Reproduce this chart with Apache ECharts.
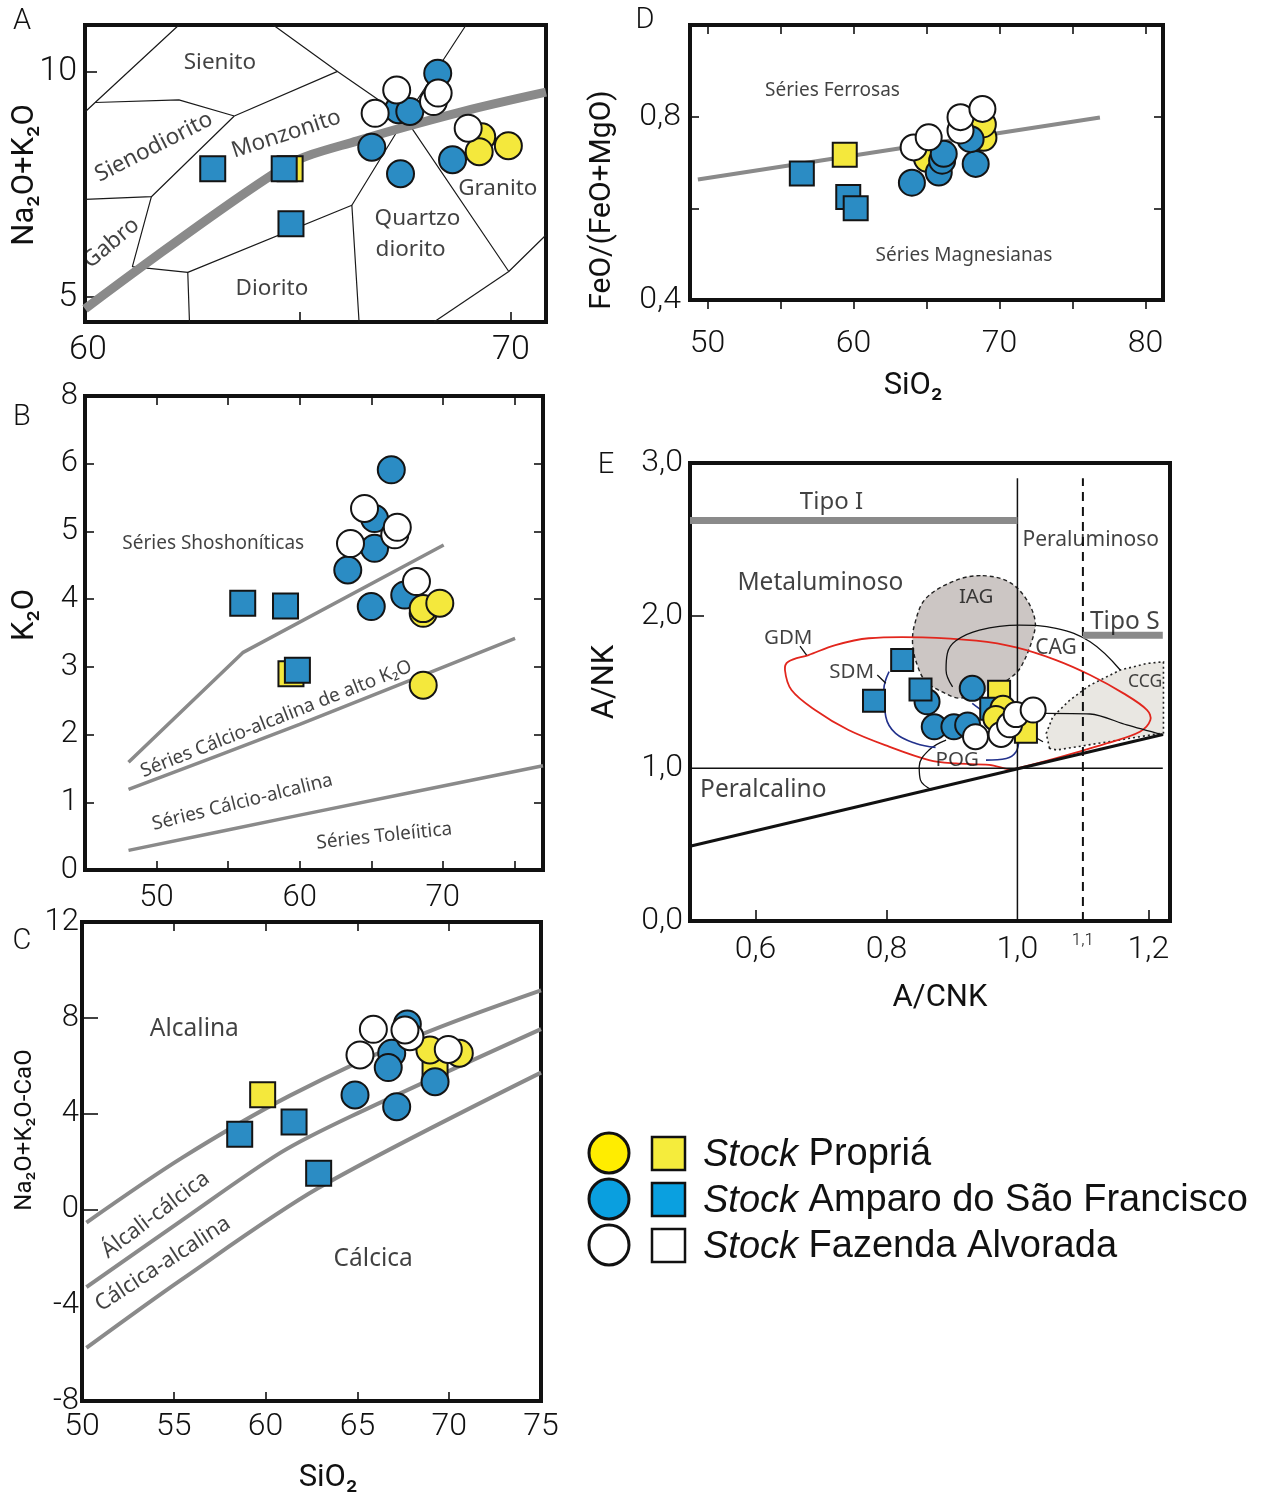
<!DOCTYPE html>
<html><head><meta charset="utf-8">
<script src="https://cdn.jsdelivr.net/npm/echarts@6/dist/echarts.min.js"></script>
<style>html,body{margin:0;padding:0;background:#fff}#c{width:1262px;height:1496px}</style>
</head><body><div id="c"></div>
<script>
// ---------------- DATA ----------------
// Panel A: TAS (SiO2 vs Na2O+K2O)
const A_xTicks = [65, 70], A_xLabels = [60, 70], A_yTicks = [5, 10], A_yLabels = [5, 10];
const A_yellowSquares = [[64.78, 7.85]];
const A_blueSquares = [[62.95, 7.85], [64.64, 7.85], [64.80, 6.63]];
const A_yellowCircles = [[69.31, 8.56], [69.25, 8.23], [69.94, 8.36]];
const A_blueCircles = [[68.27, 9.97], [67.34, 9.16], [67.61, 9.12], [66.71, 8.33], [67.39, 7.74], [68.62, 8.05]];
const A_whiteCircles = [[67.30, 9.60], [68.17, 9.34], [68.28, 9.53], [66.79, 9.08], [68.99, 8.75]];
const A_fieldLines = [
  [[62.15, 11.04], [60.17, 9.32], [59.93, 9.11]],
  [[60.17, 9.32], [62.15, 9.38], [63.46, 9.02]],
  [[64.38, 11.04], [65.90, 10.01], [67.5, 8.97]],
  [[63.46, 9.02], [65.90, 10.01]],
  [[63.46, 9.02], [61.5, 7.23], [59.93, 7.17]],
  [[61.5, 7.23], [61.05, 5.68], [62.36, 5.55], [62.40, 4.45]],
  [[62.36, 5.55], [66.24, 7.04], [66.41, 4.45]],
  [[66.24, 7.04], [67.5, 8.97], [68.94, 11.04]],
  [[67.5, 8.97], [69.95, 5.57], [70.83, 6.38]],
  [[69.95, 5.57], [68.18, 4.45]]
];
const A_alkalineLine = [[59.93, 4.74], [64.68, 7.91], [66.37, 8.47], [68.9, 9.13], [70.83, 9.55]];
const A_labels = [[63.12, 10.20, 'Sienito', 0], [61.56, 8.33, 'Sienodiorito', 27], [64.69, 8.62, 'Monzonito', 18],
  [60.55, 6.20, 'Gabro', 40], [67.79, 6.75, 'Quartzo', 0], [67.63, 6.05, 'diorito', 0], [64.35, 5.20, 'Diorito', 0], [69.69, 7.41, 'Granito', 0]];

// Panel B: SiO2 vs K2O
const B_xTicks = [50, 55, 60, 65, 70, 75], B_xLabels = [50, 60, 70], B_yTicks = [1, 2, 3, 4, 5, 6], B_yLabels = [0, 1, 2, 3, 4, 5, 6, 7];
const B_yellowSquares = [[59.39, 2.90]];
const B_blueSquares = [[56.02, 3.94], [59.01, 3.90], [59.84, 2.95]];
const B_blueCircles = [[66.40, 5.91], [65.23, 5.19], [65.23, 4.75], [63.36, 4.43], [65.0, 3.89], [67.34, 4.06]];
const B_yellowCircles = [[68.63, 2.73], [68.63, 3.79], [68.63, 3.86], [69.79, 3.94]];
const B_whiteCircles = [[64.53, 5.34], [66.64, 4.95], [66.82, 5.06], [63.55, 4.82], [68.16, 4.26]];
const B_shoshoniticLine = [[48.04, 1.59], [56.02, 3.21], [70.06, 4.80]];
const B_highKLine = [[48.04, 1.19], [60, 2.15], [75.05, 3.42]];
const B_tholeiiticLine = [[48.04, 0.29], [60, 0.81], [77, 1.54]];
const B_labels = [[53.96, 4.82, 'Séries Shoshoníticas', 0], [58.37, 2.23, 'Séries Cálcio-alcalina de alto K₂O', 21.5],
  [56.0, 1.0, 'Séries Cálcio-alcalina', 14], [65.91, 0.50, 'Séries Toleíitica', 6]];

// Panel C: SiO2 vs Na2O+K2O-CaO
const C_xTicks = [55, 60, 65, 70], C_xLabels = [50, 55, 60, 65, 70, 75], C_yTicks = [0, 4, 8], C_yLabels = [-8, -4, 0, 4, 8, 12];
const C_yellowSquares = [[59.84, 4.79], [69.23, 5.89]];
const C_blueSquares = [[58.59, 3.14], [61.55, 3.65], [62.89, 1.51]];
const C_yellowCircles = [[68.95, 6.66], [70.55, 6.52]];
const C_blueCircles = [[67.72, 7.74], [66.87, 6.52], [66.68, 5.92], [69.23, 5.33], [64.87, 4.78], [67.14, 4.29]];
const C_whiteCircles = [[65.87, 7.52], [67.86, 7.21], [67.59, 7.49], [65.14, 6.45], [69.95, 6.68]];
const C_alkalineLine = [[50.24, -0.55], [55.42, 2.14], [61.35, 4.76], [68.47, 7.3], [75, 9.15]];
const C_alkaliCalcicLine = [[50.24, -3.25], [55.42, -0.47], [60.84, 2.38], [64.66, 3.89], [75, 7.53]];
const C_calcAlkalicLine = [[50.24, -5.78], [55.42, -2.93], [62.85, 0.88], [75, 5.71]];
const C_labels = [[56.12, 7.53, 'Alcalina', 0], [65.86, -2.06, 'Cálcica', 0], [54.01, -0.23, 'Álcali-cálcica', 37, 22], [54.41, -2.28, 'Cálcica-alcalina', 33, 22]];

// Panel D: SiO2 vs FeO/(FeO+MgO)
const D_xTicks = [50, 55, 60, 65, 70, 75, 80], D_xLabels = [50, 60, 70, 80], D_yTicks = [0.6, 0.8], D_yLabels = [0.4, 0.8];
const D_yellowSquares = [[59.4, 0.717]];
const D_blueSquares = [[56.46, 0.676], [59.64, 0.625], [60.15, 0.600]];
const D_yellowCircles = [[65.04, 0.708], [68.9, 0.754], [68.86, 0.783]];
const D_blueCircles = [[64.0, 0.656], [65.84, 0.678], [66.07, 0.704], [66.18, 0.719], [68.37, 0.697], [68.02, 0.751]];
const D_whiteCircles = [[64.12, 0.733], [65.15, 0.755], [67.33, 0.77], [67.33, 0.799], [68.83, 0.817]];
const D_ferroanLine = [[49.34, 0.663], [76.88, 0.798]];
const D_labels = [[58.56, 0.857, 'Séries Ferrosas', 0], [67.57, 0.496, 'Séries Magnesianas', 0]];

// Panel E: A/CNK vs A/NK
const E_xTicks = [0.6, 0.8, 1.2], E_xLabels = [0.6, 0.8, 1.0, 1.1, 1.2], E_yTicks = [2], E_yLabels = [0, 1, 2, 3];
const E_yellowSquares = [[0.972, 1.502], [1.013, 1.240]];
const E_blueCircles = [[0.931, 1.524], [0.862, 1.436], [0.873, 1.272], [0.903, 1.272], [0.924, 1.284]];
const E_blueSquares = [[0.824, 1.709], [0.852, 1.517], [0.781, 1.443], [0.96, 1.39]];
const E_yellowCircles = [[0.978, 1.393], [0.967, 1.327]];
const E_whiteCircles = [[0.936, 1.207], [0.975, 1.222], [0.988, 1.285], [0.998, 1.352], [1.024, 1.382]];
const E_iagField = [[0.947, 2.262], [0.987, 2.221], [1.013, 2.112], [1.027, 1.967], [1.023, 1.847], [1.007, 1.677], [0.993, 1.605],
  [0.96, 1.52], [0.913, 1.46], [0.887, 1.497], [0.86, 1.569], [0.847, 1.677], [0.84, 1.81], [0.843, 1.943], [0.86, 2.112], [0.907, 2.233]];
const E_ccgField = [[1.049, 1.131], [1.044, 1.229], [1.054, 1.338], [1.08, 1.447], [1.111, 1.545], [1.157, 1.644], [1.198, 1.687],
  [1.223, 1.698], [1.223, 1.232], [1.06, 1.12]];
const E_gdmField = [[0.681, 1.742], [0.722, 1.807], [0.773, 1.852], [0.855, 1.858], [0.937, 1.836], [0.998, 1.792], [1.059, 1.709],
  [1.111, 1.611], [1.162, 1.491], [1.198, 1.382], [1.203, 1.316], [1.187, 1.240], [1.136, 1.163], [1.085, 1.098], [1.034, 1.037],
  [0.9995, 1.0], [0.988, 0.993], [0.957, 1.022], [0.906, 1.032], [0.865, 1.054], [0.804, 1.142], [0.742, 1.251], [0.691, 1.382],
  [0.655, 1.513], [0.645, 1.644], [0.650, 1.698]];
const E_cagTop = [[0.901, 1.534], [0.891, 1.644], [0.893, 1.753], [0.906, 1.836], [0.942, 1.906], [1.003, 1.938], [1.059, 1.917], [1.111, 1.829], [1.157, 1.644]];
const E_cagBottom = [[1.042, 1.360], [1.111, 1.356], [1.167, 1.284], [1.223, 1.218]];
const E_cagSegment = [[1.008, 1.251], [1.039, 1.174]];
const E_pogOuter = [[0.891, 1.185], [0.865, 1.12], [0.850, 1.011], [0.852, 0.923], [0.870, 0.858]];
const E_sdmLeft = [[0.804, 1.633], [0.796, 1.513], [0.799, 1.338], [0.814, 1.229], [0.845, 1.163], [0.875, 1.137]];
const E_sdmRight = [[0.952, 1.054], [0.983, 1.065], [0.998, 1.109], [1.002, 1.185]];
const E_sdmInner = [[0.931, 1.425], [0.955, 1.349]];
const E_sdmLeader = [[0.786, 1.611], [0.799, 1.557]];
const E_gdmLeader = [[0.668, 1.801], [0.678, 1.742]];
const E_peralkalineLine = [[0.5, 0.49], [1.222, 1.222]];
const E_oneLine = [[0.5, 1.0], [1.222, 1.0]];
const E_aCNK1 = [[1.0, 0], [1.0, 2.9]];
const E_aCNK11 = [[1.1, 0], [1.1, 2.9]];
const E_tipoI = [[0.5, 2.624], [1.0, 2.624]];
const E_tipoS = [[1.1, 1.871], [1.222, 1.871]];
const E_labels = [[0.716, 2.744, 'Tipo I', 0, 24], [1.112, 2.495, 'Peraluminoso', 0, 21], [0.699, 2.215, 'Metaluminoso', 0, 24.5],
  [0.937, 2.12, 'IAG', 0, 20.5], [0.650, 1.853, 'GDM', 0, 20.5], [1.059, 1.786, 'CAG', 0, 21], [1.164, 1.958, 'Tipo S', 0, 24.5],
  [0.747, 1.633, 'SDM', 0, 20.5], [1.195, 1.567, 'CCG', 0, 17.5], [0.908, 1.054, 'POG', 0, 20.5], [0.612, 0.858, 'Peralcalino', 0, 24.5]];

// ---------------- STYLE / HELPERS ----------------
const FN = 'Roboto, "Liberation Sans", sans-serif';
const FT = '"Noto Sans", "DejaVu Sans", sans-serif';
const BLUE = '#2b8cc4', YEL = '#f4e83c', WHITE = '#ffffff', EDGE = '#141414', GREY = '#8a8a8a';
const comma = v => Number(v).toFixed(1).replace('.', ',');

function ax(o, tick, label) {
  const a = Object.assign({ type: 'value', splitLine: { show: false }, axisLine: { show: false, onZero: false } }, o);
  a.axisTick = Object.assign({ show: true, inside: true, length: 9, lineStyle: { color: '#111', width: 1.6 } }, tick || { show: false });
  a.axisLabel = Object.assign({ show: true, color: '#111', fontFamily: FN, fontWeight: 300, fontSize: 31, margin: 8 }, label || { show: false });
  return a;
}
function marks(xi, yi, data, sym, size, color) {
  return { type: 'scatter', xAxisIndex: xi, yAxisIndex: yi, data: data, symbol: sym, symbolSize: size, silent: true, z: 4,
    itemStyle: { color: color, borderColor: EDGE, borderWidth: 2, opacity: 1 }, clip: false, animation: false };
}
function path(xi, yi, data, color, width, dash, smooth) {
  return { type: 'line', xAxisIndex: xi, yAxisIndex: yi, data: data, showSymbol: false, symbol: 'none', silent: true, z: 2,
    lineStyle: { color: color, width: width, type: dash || 'solid', cap: 'butt' }, smooth: smooth || false, animation: false };
}
function poly(xi, yi, pts, style, smooth, z) {
  return { type: 'custom', xAxisIndex: xi, yAxisIndex: yi, silent: true, z: z || 1, data: [pts[0]], animation: false,
    renderItem: function (params, api) {
      return { type: 'polygon', shape: { points: pts.map(p => api.coord(p)), smooth: smooth || 0 }, style: style };
    } };
}
function texts(xi, yi, items, size) {
  return { type: 'scatter', xAxisIndex: xi, yAxisIndex: yi, symbolSize: 1, silent: true, z: 6, clip: false, animation: false,
    itemStyle: { color: 'rgba(0,0,0,0)' },
    label: { show: true, position: 'inside', color: '#111', fontFamily: FT, fontSize: size, formatter: p => p.name },
    data: items.map(t => ({ name: t[2], value: [t[0], t[1]], label: { rotate: t[3] || 0, fontSize: t[4] || size } })) };
}
function group(xi, yi, order, sets, cs, ss) {
  const out = [];
  order.forEach(k => {
    const d = sets[k]; if (!d) return;
    const col = k[0] === 'y' ? YEL : k[0] === 'b' ? BLUE : WHITE;
    out.push(marks(xi, yi, d, k.endsWith('S') ? 'rect' : 'circle', k.endsWith('S') ? ss : cs, col));
  });
  return out;
}

// ---------------- AXES ----------------
const xAxes = [
  ax({ gridIndex: 0, min: 59.93, max: 70.83 }, { customValues: A_xTicks, length: 10 }, { customValues: A_xLabels, fontSize: 34, margin: 11 }),
  ax({ gridIndex: 1, min: 45, max: 77 }, { customValues: B_xTicks }, { customValues: B_xLabels, fontSize: 31, margin: 13 }),
  ax({ gridIndex: 1, min: 45, max: 77, position: 'top' }, { customValues: B_xTicks }, null),
  ax({ gridIndex: 2, min: 50, max: 75 }, { customValues: C_xTicks }, { customValues: C_xLabels, fontSize: 32, margin: 10 }),
  ax({ gridIndex: 2, min: 50, max: 75, position: 'top' }, { customValues: C_xTicks }, null),
  ax({ gridIndex: 3, min: 48.8, max: 81.2 }, { customValues: D_xTicks, inside: false, length: 9 }, { customValues: D_xLabels, fontSize: 32, margin: 28 }),
  ax({ gridIndex: 3, min: 48.8, max: 81.2, position: 'top' }, { customValues: D_xTicks }, null),
  ax({ gridIndex: 4, min: 0.5, max: 1.233 }, { customValues: E_xTicks, length: 11 },
    { customValues: E_xLabels, fontSize: 32, margin: 13,
      formatter: v => Math.abs(v - 1.1) < 1e-6 ? '{s|1,1}' : comma(v),
      rich: { s: { fontSize: 17, fontFamily: FN, fontWeight: 300, color: '#111', lineHeight: 14 } } })
];
const yAxes = [
  ax({ gridIndex: 0, min: 4.45, max: 11.04 }, { customValues: A_yTicks, length: 12 }, { customValues: A_yLabels, fontSize: 34, margin: 8 }),
  ax({ gridIndex: 1, min: 0, max: 7 }, { customValues: B_yTicks }, { customValues: B_yLabels, fontSize: 31, margin: 7, formatter: v => v === 7 ? '8' : String(v) }),
  ax({ gridIndex: 1, min: 0, max: 7, position: 'right' }, { customValues: B_yTicks }, null),
  ax({ gridIndex: 2, min: -8, max: 12 }, { customValues: C_yTicks, length: 16 }, { customValues: C_yLabels, fontSize: 31, margin: 3 }),
  ax({ gridIndex: 3, min: 0.4, max: 1.0 }, { customValues: D_yTicks }, { customValues: D_yLabels, fontSize: 32, margin: 9, formatter: comma }),
  ax({ gridIndex: 3, min: 0.4, max: 1.0, position: 'right' }, { customValues: D_yTicks }, null),
  ax({ gridIndex: 4, min: 0, max: 3 }, { customValues: E_yTicks, length: 14 }, { customValues: E_yLabels, fontSize: 32, margin: 7, formatter: comma })
];

const gridBase = { show: true, borderColor: '#111', borderWidth: 4, backgroundColor: 'transparent', containLabel: false };
const grids = [
  Object.assign({ left: 85, top: 25, width: 461, height: 297 }, gridBase),
  Object.assign({ left: 85, top: 396, width: 458, height: 474 }, gridBase),
  Object.assign({ left: 82, top: 922, width: 459, height: 479 }, gridBase),
  Object.assign({ left: 690, top: 25, width: 473, height: 275 }, gridBase),
  Object.assign({ left: 690, top: 463, width: 480, height: 458 }, gridBase)
];

// ---------------- SERIES ----------------
const series = [];
// A
A_fieldLines.forEach(l => series.push(path(0, 0, l, '#1a1a1a', 1.2)));
series.push(path(0, 0, A_alkalineLine, GREY, 9, 'solid', 0.3));
series.push(...group(0, 0, ['yS', 'bS', 'yC', 'bC', 'wC'],
  { yS: A_yellowSquares, bS: A_blueSquares, yC: A_yellowCircles, bC: A_blueCircles, wC: A_whiteCircles }, 27, 25));
series.push(texts(0, 0, A_labels, 22.5));
// B
series.push(path(1, 1, B_shoshoniticLine, GREY, 3.5));
series.push(path(1, 1, B_highKLine, GREY, 3.5, 'solid', 0.2));
series.push(path(1, 1, B_tholeiiticLine, GREY, 3.5, 'solid', 0.2));
series.push(...group(1, 1, ['yS', 'bS', 'bC', 'yC', 'wC'],
  { yS: B_yellowSquares, bS: B_blueSquares, yC: B_yellowCircles, bC: B_blueCircles, wC: B_whiteCircles }, 27, 25));
series.push(texts(1, 1, B_labels, 19));
// C
series.push(path(3, 3, C_alkalineLine, GREY, 4, 'solid', 0.3));
series.push(path(3, 3, C_alkaliCalcicLine, GREY, 4, 'solid', 0.3));
series.push(path(3, 3, C_calcAlkalicLine, GREY, 4, 'solid', 0.3));
series.push(...group(3, 3, ['yS', 'bS', 'yC', 'bC', 'wC'],
  { yS: C_yellowSquares, bS: C_blueSquares, yC: C_yellowCircles, bC: C_blueCircles, wC: C_whiteCircles }, 27, 25));
series.push(texts(3, 3, C_labels, 24.5));
// D
series.push(path(5, 4, D_ferroanLine, GREY, 4));
series.push(...group(5, 4, ['yS', 'bS', 'yC', 'bC', 'wC'],
  { yS: D_yellowSquares, bS: D_blueSquares, yC: D_yellowCircles, bC: D_blueCircles, wC: D_whiteCircles }, 26, 24));
series.push(texts(5, 4, D_labels, 19));
// E
series.push(poly(7, 6, E_ccgField, { fill: '#e9e7e2', stroke: '#222', lineWidth: 1.6, lineDash: [2, 3] }, 0, 1));
series.push(poly(7, 6, E_iagField, { fill: '#ccc6c4', stroke: '#222', lineWidth: 1.4, lineDash: [4, 3] }, 0.35, 1));
series.push(path(7, 6, E_cagTop, '#111', 1.3, 'solid', 0.4));
series.push(path(7, 6, E_cagBottom, '#111', 1.3, 'solid', 0.3));
series.push(path(7, 6, E_cagSegment, '#111', 1.3));
series.push(path(7, 6, E_pogOuter, '#111', 1.3, 'solid', 0.4));
series.push(poly(7, 6, E_gdmField, { fill: 'none', stroke: '#e2261d', lineWidth: 1.8 }, 0.35, 2));
series.push(path(7, 6, E_sdmLeft, '#22318c', 1.6, 'solid', 0.4));
series.push(path(7, 6, E_sdmRight, '#22318c', 1.6, 'solid', 0.4));
series.push(path(7, 6, E_sdmInner, '#22318c', 1.6));
series.push(path(7, 6, E_sdmLeader, '#111', 1.3));
series.push(path(7, 6, E_gdmLeader, '#111', 1.3));
series.push(path(7, 6, E_peralkalineLine, '#111', 3));
series.push(path(7, 6, E_oneLine, '#111', 1.5));
series.push(path(7, 6, E_aCNK1, '#111', 1.5));
series.push(path(7, 6, E_aCNK11, '#111', 2, [9, 6]));
series.push(path(7, 6, E_tipoI, GREY, 7));
series.push(path(7, 6, E_tipoS, GREY, 7));
series.push(...group(7, 6, ['yS', 'bC', 'bS', 'yC', 'wC'],
  { yS: E_yellowSquares, bS: E_blueSquares, yC: E_yellowCircles, bC: E_blueCircles, wC: E_whiteCircles }, 25, 22));
series.push(texts(7, 6, E_labels, 20));

// ---------------- GRAPHIC: panel letters, titles, legend ----------------
function t(x, y, text, size, opt) {
  opt = opt || {};
  return { type: 'text', x: x, y: y, rotation: opt.rot || 0, z: 10, silent: true,
    style: { text: text, fontSize: size, fontFamily: opt.ff || FN, fontWeight: opt.fw || 300, fill: '#111',
      align: opt.align || 'center', verticalAlign: 'middle', rich: opt.rich } };
}
const R = Math.PI / 2;
const legendRows = [
  { y: 1153, c: '#ffed00', s: '#f5ec3c', name: 'Propriá' },
  { y: 1199, c: '#0a9fdf', s: '#0aa0e0', name: 'Amparo do São Francisco' },
  { y: 1245, c: '#ffffff', s: '#ffffff', name: 'Fazenda Alvorada' }
];
const graphic = [
  t(22, 22, 'A', 29), t(22, 418, 'B', 29), t(22, 942, 'C', 29), t(645, 21, 'D', 29), t(606, 466, 'E', 29),
  t(25, 175, 'Na₂O+K₂O', 31, { rot: R, fw: 400 }),
  t(25, 615, 'K₂O', 31, { rot: R, fw: 400 }),
  t(25, 1130, 'Na₂O+K₂O-CaO', 24, { rot: R, fw: 400 }),
  t(328, 1478, 'SiO₂', 31, { fw: 400 }),
  t(602, 200, 'FeO/(FeO+MgO)', 30, { rot: R, fw: 400 }),
  t(913, 386, 'SiO₂', 31, { fw: 400 }),
  t(605, 682, 'A/NK', 31, { rot: R, fw: 400 }),
  t(940, 998, 'A/CNK', 31, { fw: 400 })
];
legendRows.forEach(r => {
  graphic.push({ type: 'circle', shape: { cx: 609, cy: r.y, r: 20 }, style: { fill: r.c, stroke: '#111', lineWidth: 3 }, z: 10, silent: true });
  graphic.push({ type: 'rect', shape: { x: 652, y: r.y - 16, width: 33, height: 33 }, style: { fill: r.s, stroke: '#111', lineWidth: 2.5 }, z: 10, silent: true });
  graphic.push({ type: 'text', x: 703, y: r.y + 2, z: 10, silent: true,
    style: { text: '{i|Stock} ' + r.name, fontSize: 38, fontFamily: '"Liberation Sans", Arial, sans-serif', fill: '#111',
      align: 'left', verticalAlign: 'middle',
      rich: { i: { fontStyle: 'italic', fontSize: 38, fontFamily: '"Liberation Sans", Arial, sans-serif', fill: '#111' } } } });
});

const chart = echarts.init(document.getElementById('c'), null, { renderer: 'canvas' });
chart.setOption({
  animation: false,
  backgroundColor: '#fff',
  grid: grids,
  xAxis: xAxes,
  yAxis: yAxes,
  series: series,
  graphic: graphic
});
</script></body></html>
